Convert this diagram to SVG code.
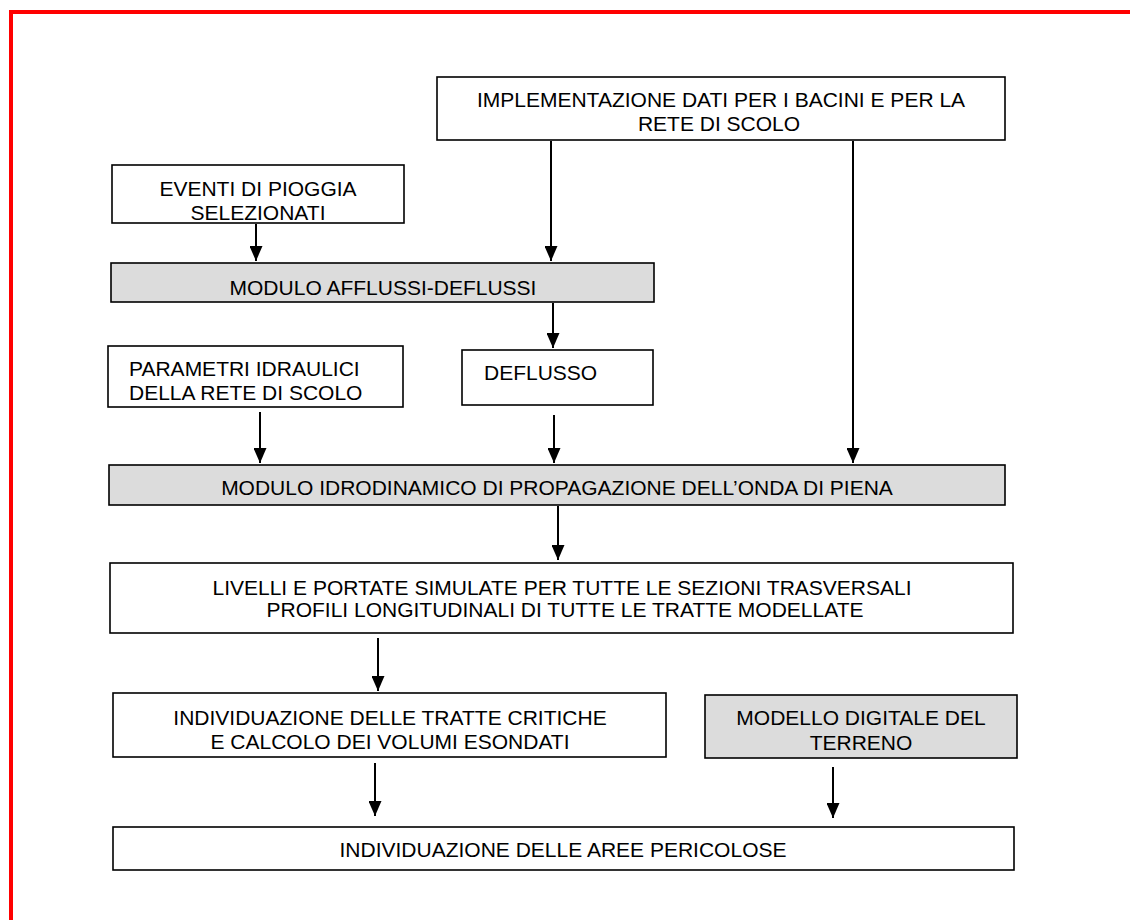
<svg xmlns="http://www.w3.org/2000/svg" width="1130" height="920" viewBox="0 0 1130 920">
<defs>
<style>
.box{fill:#ffffff;stroke:#000000;stroke-width:1.6}
.gray{fill:#dcdcdc;stroke:#000000;stroke-width:1.6}
text{font-family:"Liberation Sans",Arial,sans-serif;font-size:21px;fill:#000000}
.c{text-anchor:middle}
.conn line{stroke:#000000;stroke-width:2;marker-end:url(#ah)}
</style>
<marker id="ah" markerUnits="userSpaceOnUse" markerWidth="15" markerHeight="13" refX="15" refY="6.5" orient="auto">
<path d="M0,0 L15,6.5 L0,13 z" fill="#000000"/>
</marker>
</defs>
<rect width="1130" height="920" fill="#ffffff"/>
<rect x="11" y="12" width="1300" height="1100" fill="none" stroke="#ff0000" stroke-width="4"/>

<g id="n-impl"><rect class="box" x="437" y="77" width="568" height="63"/><text class="c" x="721" y="107">IMPLEMENTAZIONE DATI PER I BACINI E PER LA</text><text class="c" x="719" y="131">RETE DI SCOLO</text></g>
<g id="n-eventi"><rect class="box" x="112" y="165" width="292" height="58"/><text class="c" x="258" y="196">EVENTI DI PIOGGIA</text><text class="c" x="258" y="220">SELEZIONATI</text></g>
<g id="n-afflussi"><rect class="gray" x="111" y="263" width="543" height="39"/><text class="c" x="383" y="295">MODULO AFFLUSSI-DEFLUSSI</text></g>
<g id="n-parametri"><rect class="box" x="108" y="346" width="295" height="61"/><text x="129" y="376">PARAMETRI IDRAULICI</text><text x="129" y="400">DELLA RETE DI SCOLO</text></g>
<g id="n-deflusso"><rect class="box" x="462" y="350" width="191" height="55"/><text x="484" y="380">DEFLUSSO</text></g>
<g id="n-idro"><rect class="gray" x="109" y="465" width="896" height="40"/><text class="c" x="557" y="495">MODULO IDRODINAMICO DI PROPAGAZIONE DELL’ONDA DI PIENA</text></g>
<g id="n-livelli"><rect class="box" x="110" y="563" width="903" height="70"/><text class="c" x="562" y="595">LIVELLI E PORTATE SIMULATE PER TUTTE LE SEZIONI TRASVERSALI</text><text class="c" x="565" y="617">PROFILI LONGITUDINALI DI TUTTE LE TRATTE MODELLATE</text></g>
<g id="n-indiv"><rect class="box" x="113" y="693" width="553" height="64"/><text class="c" x="390" y="725">INDIVIDUAZIONE DELLE TRATTE CRITICHE</text><text class="c" x="390" y="749">E CALCOLO DEI VOLUMI ESONDATI</text></g>
<g id="n-modello"><rect class="gray" x="705" y="695" width="312" height="63"/><text class="c" x="861" y="725">MODELLO DIGITALE DEL</text><text class="c" x="861" y="750">TERRENO</text></g>
<g id="n-aree"><rect class="box" x="113" y="827" width="901" height="43"/><text class="c" x="563" y="857">INDIVIDUAZIONE DELLE AREE PERICOLOSE</text></g>

<g id="connectors" class="conn">
<line x1="256" y1="224" x2="256" y2="261"/>
<line x1="551" y1="141" x2="551" y2="261"/>
<line x1="553" y1="303" x2="553" y2="348"/>
<line x1="853" y1="141" x2="853" y2="463"/>
<line x1="260" y1="412" x2="260" y2="463"/>
<line x1="554" y1="415" x2="554" y2="463"/>
<line x1="558" y1="506" x2="558" y2="560"/>
<line x1="378" y1="638" x2="378" y2="691"/>
<line x1="375" y1="763" x2="375" y2="816"/>
<line x1="833" y1="767" x2="833" y2="818"/>
</g>
</svg>
